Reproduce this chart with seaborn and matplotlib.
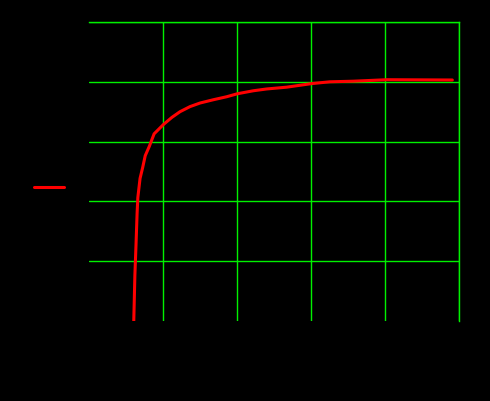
import pandas as pd
import matplotlib
matplotlib.use("Agg")
import matplotlib.pyplot as plt
import seaborn as sns

# values (x, y in percent)
x_vals = [12.1, 12.2, 12.4, 12.7, 13.0, 13.2, 13.8, 14.5, 15.2, 16.3, 17.6,
          20.1, 22.4, 24.6, 27.3, 30.0, 33.6, 37.2, 40.1, 44.4, 48.0, 53.4,
          60.2, 65.1, 71.4, 80.5, 98.2]
y_vals = [0.0, 5.1, 15.3, 25.3, 36.0, 41.3, 47.7, 51.3, 55.3, 58.4, 62.6,
          65.7, 68.1, 70.0, 71.7, 72.9, 74.0, 75.0, 76.0, 77.0, 77.6, 78.2,
          79.4, 80.0, 80.2, 80.7, 80.6]
x_ticks = [0, 20, 40, 60, 80, 100]
y_ticks = [0, 20, 40, 60, 80, 100]
series_name = "CDF"

df = pd.DataFrame({"x": x_vals, "y": y_vals, "series": series_name})

sns.set_style("dark")
plt.rcParams["font.family"] = ["DejaVu Sans"]

fig = plt.figure(figsize=(4.9, 4.01), dpi=100, facecolor="black")
ax = fig.add_axes([89 / 490, 80 / 401, 370 / 490, 299 / 401])
ax.set_facecolor("black")

sns.lineplot(data=df, x="x", y="y", hue="series", palette=["#ff0000"],
             linewidth=2.2, ax=ax, legend=False, estimator=None, sort=False)

ax.set_xlim(0, 100)
ax.set_ylim(0, 100)
ax.set_xticks(x_ticks)
ax.set_yticks(y_ticks)
ax.tick_params(colors="black", length=0)
ax.set_xlabel("x", color="black")
ax.set_ylabel("y", color="black")

ax.grid(True, color="#00f000", linewidth=1.0)
ax.xaxis.get_gridlines()[0].set_visible(False)
ax.yaxis.get_gridlines()[0].set_visible(False)
for side in ["left", "bottom"]:
    ax.spines[side].set_visible(False)
for side in ["top", "right"]:
    ax.spines[side].set_color("#00f000")
    ax.spines[side].set_linewidth(1.0)

handle = plt.Line2D([], [], color="#ff0000", linewidth=2.2)
leg = fig.legend([handle], [series_name], loc="center right",
                 bbox_to_anchor=(64 / 490, 1 - 188 / 401), frameon=False,
                 markerfirst=False, handlelength=2.7, handletextpad=0.3,
                 borderpad=0, borderaxespad=0, labelcolor="black",
                 fontsize=8)

fig.savefig("out.png", dpi=100, facecolor="black")
